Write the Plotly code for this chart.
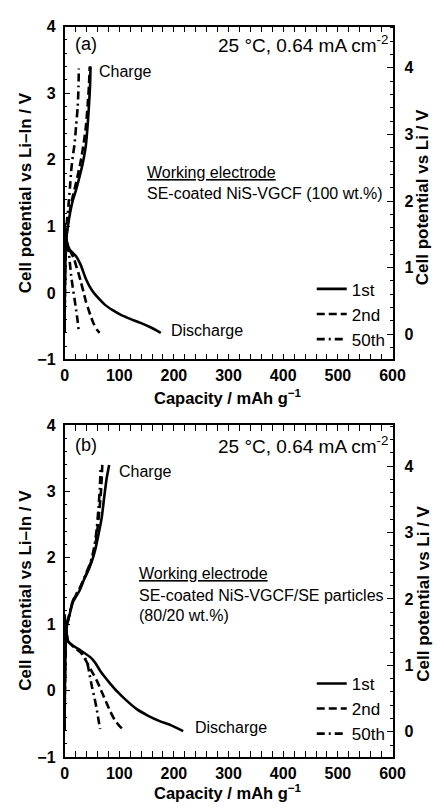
import plotly.graph_objects as go

W, H = 444, 811
FONT = "Liberation Sans, Arial, sans-serif"

# ---------------- data: panel (a) SE-coated NiS-VGCF (100 wt.%) ----------------
a_dis_1st_cap = [0, 2, 6.5, 9.4, 15, 21, 30, 39, 50, 62, 74, 88, 103, 120, 139, 158, 176]
a_dis_1st_v = [1.05, 0.85, 0.70, 0.65, 0.60, 0.55, 0.41, 0.21, 0.04, -0.08, -0.18, -0.26, -0.33, -0.39, -0.45, -0.52, -0.60]
a_chg_1st_cap = [0, 0.5, 1.5, 3, 6, 10, 15, 20, 25, 30, 35, 39, 42, 44.5, 46.5, 47.5]
a_chg_1st_v = [-0.60, 0.0, 0.5, 0.8, 1.0, 1.2, 1.39, 1.52, 1.67, 1.83, 2.02, 2.22, 2.5, 2.8, 3.1, 3.4]

a_dis_2nd_cap = [0, 3, 6.5, 12, 17, 21, 26, 30, 35, 39, 43, 47, 53, 59, 64]
a_dis_2nd_v = [1.0, 0.8, 0.70, 0.60, 0.52, 0.41, 0.28, 0.16, 0.0, -0.13, -0.23, -0.33, -0.46, -0.55, -0.60]
a_chg_2nd_cap = [0, 0.5, 1.5, 3, 6, 10, 15, 20, 25, 30, 35, 39, 42, 44.5, 46]
a_chg_2nd_v = [-0.60, 0.0, 0.5, 0.8, 1.05, 1.25, 1.45, 1.62, 1.8, 2.0, 2.25, 2.5, 2.8, 3.1, 3.4]

a_dis_50th_cap = [0, 3, 6, 8, 10, 12, 15, 18, 21, 24, 26]
a_dis_50th_v = [1.0, 0.8, 0.68, 0.58, 0.42, 0.26, 0.08, -0.08, -0.25, -0.43, -0.58]
a_chg_50th_cap = [0, 0.5, 1, 2, 4, 7, 10, 12, 15, 18, 21, 24, 25.5, 26]
a_chg_50th_v = [-0.60, 0.0, 0.5, 0.8, 1.05, 1.3, 1.6, 1.83, 2.05, 2.22, 2.5, 2.8, 3.1, 3.37]

# ---------------- data: panel (b) SE-coated NiS-VGCF/SE particles (80/20 wt.%) ----------------
b_dis_1st_cap = [0, 3, 6.5, 15, 30, 47.5, 56, 65, 74, 83, 97, 112, 132, 153, 174, 194, 217]
b_dis_1st_v = [1.15, 0.9, 0.74, 0.68, 0.60, 0.50, 0.42, 0.30, 0.20, 0.11, -0.02, -0.14, -0.28, -0.38, -0.46, -0.52, -0.61]
b_chg_1st_cap = [0, 0.5, 1.5, 3.5, 9, 15, 21, 27, 36, 44.5, 50, 56, 62, 68, 73, 77, 81.5]
b_chg_1st_v = [-0.60, 0.0, 0.5, 0.94, 1.14, 1.33, 1.42, 1.50, 1.68, 1.83, 1.95, 2.12, 2.35, 2.61, 2.95, 3.2, 3.4]

b_dis_2nd_cap = [0, 3, 6.5, 15, 30, 39, 49, 59, 68, 77, 84, 91.5, 99, 106]
b_dis_2nd_v = [1.1, 0.9, 0.74, 0.67, 0.58, 0.45, 0.30, 0.15, -0.02, -0.19, -0.32, -0.44, -0.52, -0.58]
b_chg_2nd_cap = [0, 0.5, 1.5, 3.5, 9, 15, 21, 27, 36, 44.5, 50, 56, 60, 64, 67, 69]
b_chg_2nd_v = [-0.60, 0.0, 0.5, 0.95, 1.15, 1.34, 1.44, 1.52, 1.69, 1.85, 1.98, 2.18, 2.42, 2.75, 3.05, 3.4]

b_dis_50th_cap = [0, 3, 6.5, 15, 30, 38, 42, 46, 50, 55, 59, 62, 65]
b_dis_50th_v = [1.1, 0.9, 0.74, 0.67, 0.57, 0.48, 0.40, 0.23, 0.06, -0.12, -0.29, -0.44, -0.58]
b_chg_50th_cap = [0, 0.5, 1.5, 3.5, 9, 15, 21, 27, 36, 44.5, 50, 55, 59, 62, 64.5, 66]
b_chg_50th_v = [-0.60, 0.0, 0.5, 0.94, 1.16, 1.35, 1.45, 1.53, 1.70, 1.87, 2.0, 2.2, 2.45, 2.75, 3.05, 3.37]

cycle_names = ["1st", "2nd", "50th"]
x_ticks = [0, 100, 200, 300, 400, 500, 600]
left_ticks = [-1, 0, 1, 2, 3, 4]
right_ticks = [0, 1, 2, 3, 4]
li_in_vs_li = 0.62  # offset of Li-In reference vs Li

panel_a = [
    (a_dis_1st_cap, a_dis_1st_v, a_chg_1st_cap, a_chg_1st_v),
    (a_dis_2nd_cap, a_dis_2nd_v, a_chg_2nd_cap, a_chg_2nd_v),
    (a_dis_50th_cap, a_dis_50th_v, a_chg_50th_cap, a_chg_50th_v),
]
panel_b = [
    (b_dis_1st_cap, b_dis_1st_v, b_chg_1st_cap, b_chg_1st_v),
    (b_dis_2nd_cap, b_dis_2nd_v, b_chg_2nd_cap, b_chg_2nd_v),
    (b_dis_50th_cap, b_dis_50th_v, b_chg_50th_cap, b_chg_50th_v),
]

dashes = ["solid", "8px,4px", "8px,4px,2px,4px"]


def px_x(p):
    return p / W


def px_y(p):
    return 1 - p / H


fig = go.Figure()
for panel, xa, ya, ya_r, leg in [(panel_a, "x", "y", "y3", "legend"), (panel_b, "x2", "y2", "y4", "legend2")]:
    for name, dash, (dc, dv, cc, cv) in zip(cycle_names, dashes, panel):
        fig.add_trace(go.Scatter(
            x=list(dc) + [None] + list(cc),
            y=list(dv) + [None] + list(cv),
            mode="lines", name=name, xaxis=xa, yaxis=ya, legend=leg,
            line=dict(color="black", width=2.6, dash=dash, shape="spline", smoothing=0.6),
            connectgaps=False, hoverinfo="skip",
        ))
    # empty trace so that the secondary (vs Li) axis is drawn
    fig.add_trace(go.Scatter(x=[None], y=[None], xaxis=xa, yaxis=ya_r, mode="lines",
                             showlegend=False, hoverinfo="skip"))

tickfont = dict(family=FONT, size=16, color="black", weight="bold")
minor_x = dict(dtick=20, tick0=0, ticks="inside", ticklen=3, tickcolor="black", tickwidth=1.2)
minor_y = dict(dtick=0.2, tick0=0, ticks="inside", ticklen=3, tickcolor="black", tickwidth=1.2)
common_x = dict(range=[0, 600], tickvals=x_ticks, ticks="inside", ticklen=6, tickwidth=1.3,
                tickcolor="black", showline=True, linecolor="black", linewidth=1.6,
                mirror="allticks", showgrid=False, zeroline=False, tickfont=tickfont,
                ticklabelstandoff=1, minor=minor_x)
common_yl = dict(range=[-1, 4], tickvals=left_ticks, ticks="inside", ticklen=6, tickwidth=1.3,
                 tickcolor="black", showline=True, linecolor="black", linewidth=1.6,
                 showgrid=False, zeroline=False, tickfont=tickfont, ticklabelstandoff=4,
                 minor=minor_y)
common_yr = dict(range=[-1 + li_in_vs_li, 4 + li_in_vs_li], tickvals=right_ticks, ticks="inside",
                 ticklen=6, tickwidth=1.3, tickcolor="black", showline=True, linecolor="black",
                 linewidth=1.6, showgrid=False, zeroline=False, tickfont=tickfont, side="right",
                 ticklabelstandoff=7, minor=minor_y)

xdom = [px_x(63), px_x(404)]
ydom_a = [px_y(359), px_y(19)]
ydom_b = [px_y(765), px_y(426)]

legend_style = dict(xanchor="left", yanchor="top",
                    font=dict(family=FONT, size=17, color="black"), bgcolor="rgba(0,0,0,0)",
                    tracegroupgap=0, itemwidth=30)

fig.update_layout(
    width=W, height=H, margin=dict(l=0, r=0, t=0, b=0),
    paper_bgcolor="white", plot_bgcolor="white",
    font=dict(family=FONT, color="black"),
    xaxis=dict(domain=xdom, anchor="y", **common_x),
    yaxis=dict(domain=ydom_a, anchor="x", **common_yl),
    yaxis3=dict(overlaying="y", anchor="x", **common_yr),
    xaxis2=dict(domain=xdom, anchor="y2", **common_x),
    yaxis2=dict(domain=ydom_b, anchor="x2", **common_yl),
    yaxis4=dict(overlaying="y2", anchor="x2", **common_yr),
    legend=dict(x=px_x(320), y=px_y(269), **legend_style),
    legend2=dict(x=px_x(320), y=px_y(672), **legend_style),
    showlegend=True,
)


def ann(text, x, y, size, xanchor="left", bold=False, angle=0):
    fig.add_annotation(text=text, x=px_x(x), y=px_y(y), xref="paper", yref="paper",
                       xanchor=xanchor, yanchor="middle", showarrow=False, textangle=angle,
                       font=dict(family=FONT, size=size, color="black",
                                 weight="bold" if bold else "normal"))


cond = "25 °C, 0.64 mA cm<sup>-2</sup>"
xtitle = "Capacity / mAh g<sup>−1</sup>"
ltitle = "Cell potential vs Li–In / V"
rtitle = "Cell potential vs Li / V"

# panel (a)
ann("(a)", 72, 37, 18)
ann(cond, 401, 37, 19, xanchor="right")
ann("Charge", 97, 65, 16)
ann("<u>Working electrode</u>", 147, 168, 16)
ann("SE-coated NiS-VGCF (100 wt.%)", 147, 189, 16)
ann("Discharge", 172, 329, 16)
ann(xtitle, 233, 397, 16.5, xanchor="center", bold=True)
ann(ltitle, 22, 189, 17, xanchor="center", bold=True, angle=-90)
ann(rtitle, 436, 193, 17, xanchor="center", bold=True, angle=-90)

# panel (b)
ann("(b)", 72, 446, 18)
ann(cond, 401, 446, 19, xanchor="right")
ann("Charge", 118, 473, 16)
ann("<u>Working electrode</u>", 138, 578, 16)
ann("SE-coated NiS-VGCF/SE particles", 138, 600, 16)
ann("(80/20 wt.%)", 138, 621, 16)
ann("Discharge", 197, 735, 16)
ann(xtitle, 233, 801, 16.5, xanchor="center", bold=True)
ann(ltitle, 22, 595, 17, xanchor="center", bold=True, angle=-90)
ann(rtitle, 436, 598, 17, xanchor="center", bold=True, angle=-90)

fig.write_html("out.html")
